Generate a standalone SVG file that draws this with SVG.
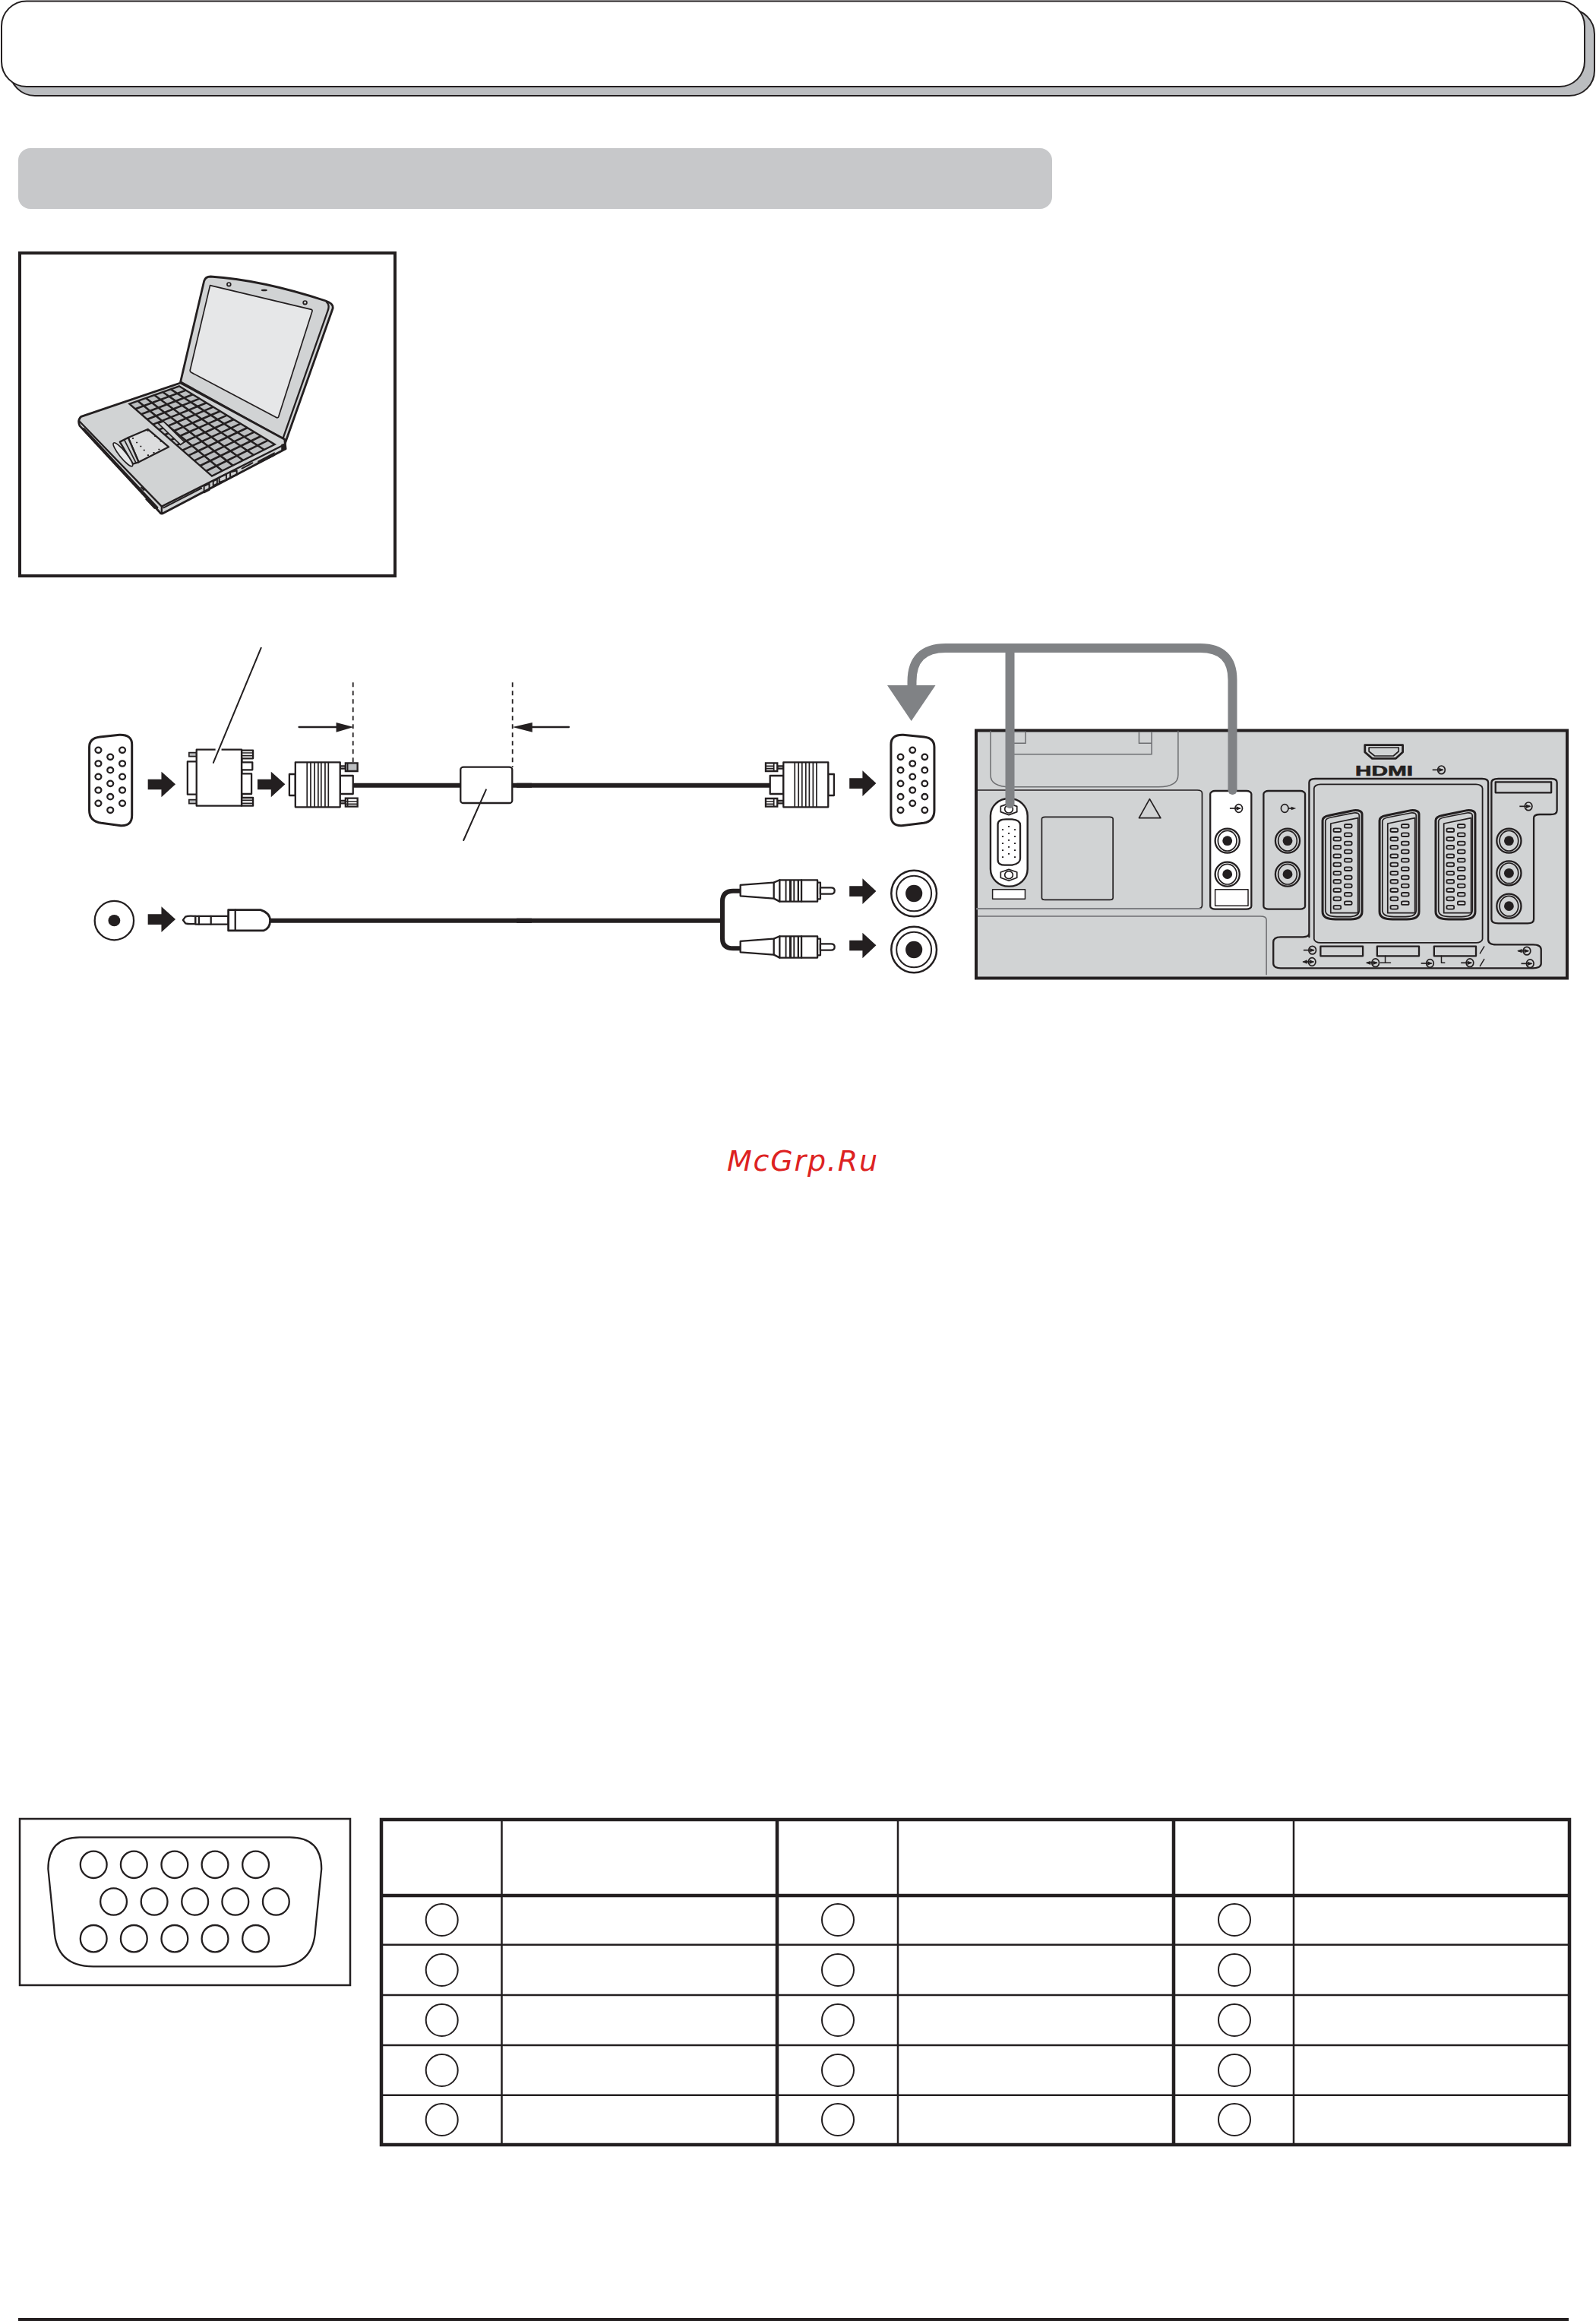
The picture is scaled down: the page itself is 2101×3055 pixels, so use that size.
<svg xmlns="http://www.w3.org/2000/svg" xmlns:xlink="http://www.w3.org/1999/xlink" width="2101" height="3055" viewBox="0 0 2101 3055">
<style>
*{vector-effect:non-scaling-stroke}
.k{fill:none;stroke:#231f20;stroke-width:2.300;stroke-linejoin:round;stroke-linecap:round}
.kt{fill:none;stroke:#231f20;stroke-width:1.700;stroke-linejoin:round}
.w{fill:#fff;stroke:#231f20;stroke-width:2.300;stroke-linejoin:round}
.g{fill:#d1d3d4;stroke:#231f20;stroke-width:2.300;stroke-linejoin:round}
.b{fill:#231f20}
.thin{stroke:#231f20;stroke-width:2.500;fill:none}
.thick{stroke:#231f20;stroke-width:4.500;fill:none}
.cable{fill:none;stroke:#231f20;stroke-width:6}
.gr{fill:none;stroke:#808285;stroke-width:12}
</style>
<defs>
<path id="fat" class="b" d="M0,-20H45V-50L92,0L45,51V21H0Z"/>
<g id="vga15"><ellipse cx="0" cy="0" rx="10" ry="11" class="k"/></g>
<g id="hole"><ellipse rx="30" ry="48" class="k"/><ellipse rx="23" ry="40" class="kt"/><ellipse rx="12" ry="19" class="b"/></g>
<g id="in"><ellipse rx="9" ry="16" class="kt"/><path class="kt" d="M-22,0H4"/><path class="b" d="M-6,-8L6,0L-6,8Z"/></g>
<g id="inb"><ellipse rx="9" ry="16" class="kt"/><path class="kt" d="M-22,0H4"/><path class="b" d="M-6,-8L6,0L-6,8Z"/><path class="b" d="M-12,-8L-24,0L-12,8Z"/></g>
<g id="pin"><rect x="-9" y="-7" width="18" height="14" rx="4" class="kt" style="stroke-width:1.8"/></g>
<g id="rca">
<path class="w" d="M770,975L885,965L905,955H1035V1040H905L885,1028L770,1018Z"/>
<path class="k" d="M885,965V1028M905,955V1040M980,955V1040"/>
<path d="M924,955h5v85h-5zM938,955h8v85h-8zM952,955h5v85h-5zM966,955h6v85h-6z" class="b"/>
<path class="w" d="M1035,965H1045V1030H1035Z"/>
<path class="w" d="M1045,985H1082Q1094,985 1094,997Q1094,1010 1082,1010H1045Z"/>
</g>
<g id="scart">
<path class="k" style="stroke-width:3" d="M898,420Q898,405 915,400L975,380Q995,378 995,395V780Q995,810 965,810H930Q898,810 898,780Z"/>
<path class="kt" d="M905,424Q905,412 918,408L975,390Q988,388 988,400V775Q988,800 962,800H933Q905,800 905,775Z"/>
<path class="kt" d="M918,432L985,410V785H918Z"/>
<use href="#pin" x="934" y="458"/><use href="#pin" x="934" y="493"/><use href="#pin" x="934" y="526"/><use href="#pin" x="934" y="560"/><use href="#pin" x="934" y="594"/><use href="#pin" x="934" y="628"/><use href="#pin" x="934" y="661"/><use href="#pin" x="934" y="695"/><use href="#pin" x="934" y="729"/><use href="#pin" x="934" y="763"/>
<use href="#pin" x="961" y="442"/><use href="#pin" x="961" y="476"/><use href="#pin" x="961" y="510"/><use href="#pin" x="961" y="543"/><use href="#pin" x="961" y="577"/><use href="#pin" x="961" y="611"/><use href="#pin" x="961" y="645"/><use href="#pin" x="961" y="678"/><use href="#pin" x="961" y="712"/><use href="#pin" x="961" y="746"/>
</g>
</defs>
<rect width="2101" height="3055" fill="#fff"/>

<g id="header">
<rect x="13" y="12" width="2086" height="114" rx="33" fill="#bbbdc0" stroke="#231f20" stroke-width="2"/>
<rect x="2" y="1.500" width="2084" height="112.500" rx="33" fill="#fff" stroke="#231f20" stroke-width="2"/>
</g>
<g id="section-bar"><rect x="24" y="195" width="1361" height="80" rx="16" fill="#c7c8ca"/></g>

<g id="laptop">
<rect x="26" y="333" width="494" height="425" fill="#fff" stroke="#231f20" stroke-width="4"/>
<g transform="translate(0,320) scale(.3444,.3333)">
<path class="g" style="stroke-width:2.800" d="M690,548L780,150Q785,132 805,132Q1000,145 1245,228Q1275,238 1272,258L1090,790L1085,775Z"/>
<path class="k" d="M1248,232Q1262,245 1252,270L1082,770"/>
<path d="M803,167L1190,262Q1195,264 1193,270L1065,685Q1062,692 1055,688L730,510Q725,506 727,500Z" fill="#e6e7e8" stroke="#231f20" stroke-width="1.700"/>
<ellipse cx="875" cy="163" rx="7" ry="7" class="kt"/><ellipse cx="1166" cy="235" rx="7" ry="7" class="kt"/><ellipse cx="1010" cy="186" rx="12" ry="4" class="b"/>
<path class="g" style="stroke-width:2.800" d="M310,685L690,552L1088,775L1092,812L625,1066Q615,1072 608,1060L305,722Q295,700 310,685Z"/>
<path class="k" d="M305,705L618,1040V1066M618,1040L1088,795"/>
<path class="k" style="stroke-width:3.500" d="M320,735L600,1045"/>
<path d="M495,635L685,565L1050,795L810,920Z" fill="#bcbec0" stroke="#231f20" stroke-width="2.400"/>
<path fill="none" stroke="#231f20" stroke-width="2.600" d="M527,623L850,899M558,612L890,878M590,600L930,858M622,588L970,837M653,577L1010,816M517.500,655L711,581M540,676L737,598M562.500,696L763,614M585,716L789,631M607.500,737L815,647M630,757L841,664M652.500,778L867.500,680M675,798L893.600,696M697.500,818L919.600,713M720,839L945.700,729M742.500,859L971.800,746M765,879L997.900,762M787.500,900L1024,779"/>
<path d="M605,712L625,704L705,785L690,796Z" fill="#d1d3d4" stroke="#231f20" stroke-width="1.700"/>
<path class="g" d="M490,768L565,735L645,805L530,865Z" style="fill:#dcddde"/>
<path class="g" d="M458,785L490,768L530,865L508,872Z"/>
<path class="kt" d="M475,777L520,868"/>
<path class="b" d="M505,768h6v5h-6zM520,785h6v5h-6zM535,800h6v5h-6zM548,815h6v5h-6zM562,738h6v5h-6zM590,760h6v5h-6zM612,780h6v5h-6zM605,812h6v5h-6zM585,825h6v5h-6zM563,835h6v5h-6z"/>
<ellipse cx="0" cy="0" rx="58" ry="13" transform="translate(470,835) rotate(52)" fill="#e6e7e8" stroke="#231f20" stroke-width="1.700"/>
<path class="k" style="stroke-width:2" d="M625,1045L770,968M780,960L800,950V975L780,985ZM815,940L830,932V950L815,958ZM838,925L865,912V935L838,945ZM880,905L905,898V915L880,925ZM925,890L965,868M540,965L550,975"/>
<path class="b" d="M985,860L1050,825V840L985,872ZM560,1005L600,1045L590,1050L555,1012ZM1075,795L1090,790V812L1075,820Z"/>
</g>
</g>

<g id="connectors">
<g transform="translate(80,840) scale(.3954,.3333)">
<path class="cable" d="M973,581H1335M1503,581H1568"/>
<path class="cable" d="M697,1115H1568"/>
<path class="k" style="stroke-width:1.800;stroke-linecap:butt" stroke-dasharray="6 5" d="M973,175V490M1504,175V510"/>
<path class="k" d="M793,351H920"/><path class="b" d="M917,333L975,351L917,371Z"/>
<path class="b" d="M1504,351L1570,333V371Z"/>
</g>
<g transform="translate(680,840) scale(.3827,.3333)">
<path class="cable" d="M0,581H872M0,1115H708"/>
<path class="cable" d="M770,998H745Q708,998 708,1040V1185Q708,1225 745,1225H770"/>
<path class="k" d="M180,351H50"/>
</g>
</g>

<g id="vga-left" transform="translate(80,840) scale(.3954,.3333)">
<path class="w" style="stroke-width:3" d="M95,430Q95,395 130,390L195,382Q237,380 237,420V700Q237,742 200,740L135,730Q95,722 95,680Z"/>
<use href="#vga15" x="125" y="442"/><use href="#vga15" x="125" y="495"/><use href="#vga15" x="125" y="547"/><use href="#vga15" x="125" y="600"/><use href="#vga15" x="125" y="652"/>
<use href="#vga15" x="165" y="469"/><use href="#vga15" x="165" y="521"/><use href="#vga15" x="165" y="574"/><use href="#vga15" x="165" y="626"/><use href="#vga15" x="165" y="679"/>
<use href="#vga15" x="205" y="442"/><use href="#vga15" x="205" y="495"/><use href="#vga15" x="205" y="547"/><use href="#vga15" x="205" y="600"/><use href="#vga15" x="205" y="652"/>
<use href="#fat" x="290" y="577"/>
</g>

<g id="adapter" transform="translate(80,840) scale(.3954,.3333)">
<path d="M427,452H452V467H427ZM427,638H452V653H427Z" fill="#bcbec0" stroke="#231f20" stroke-width="1.700"/>
<rect x="422" y="487" width="32" height="130" class="w"/>
<path class="w" d="M602,443H640V475H602ZM602,490H638V520H602ZM602,535H635V615H602ZM602,630H640V662H602Z"/>
<path class="kt" d="M602,453H640M602,464H640M602,640H640M602,652H640"/>
<path class="b" d="M598,472h8v20h-8zM598,517h8v20h-8zM598,613h8v20h-8z"/>
<rect x="452" y="440" width="150" height="222" class="w"/>
<path stroke="#fff" stroke-width="4" d="M515,440H535"/>
<path class="k" style="stroke-width:2" d="M667,38L508,492"/>
<use href="#fat" x="655" y="577"/>
</g>

<g id="plug-left" transform="translate(80,840) scale(.3954,.3333)">
<rect x="761" y="537" width="20" height="84" class="w"/>
<path class="w" d="M930,543H973V615H930ZM930,505H948V515H930ZM930,642H948V652H930Z"/>
<path d="M948,493H988V525H948Z" fill="#bcbec0" stroke="#231f20" stroke-width="2.300"/>
<path d="M948,632H988V665H948Z" fill="#fff" stroke="#231f20" stroke-width="2.300"/>
<path class="kt" d="M955,493V525M955,632V665M948,645H988M948,655H988"/>
<rect x="781" y="490" width="149" height="177" class="w"/>
<path class="kt" d="M820,490V667M832,490V667M845,490V667M857,490V667M867,490V667M880,490V667M891,490V667"/>
</g>

<g id="ferrite" transform="translate(80,840) scale(.3954,.3333)">
<rect x="1331" y="509" width="172" height="142" rx="10" class="w"/>
<path class="k" style="stroke-width:2" d="M1416,598L1341,798"/>
</g>

<g id="audio-jack" transform="translate(80,840) scale(.3954,.3333)">
<ellipse cx="178" cy="1115" rx="65" ry="77" class="k"/>
<ellipse cx="178" cy="1115" rx="20" ry="23" class="b"/>
<use href="#fat" x="290" y="1110"/>
<path class="w" d="M448,1098H558V1130H448Z"/>
<path class="k" d="M500,1098V1130M460,1098V1130"/>
<path class="w" d="M448,1098Q425,1095 415,1100L407,1113L415,1126Q425,1130 448,1128Z"/>
<path class="w" style="stroke-width:2.800" d="M558,1073H665Q697,1085 697,1115Q697,1145 675,1155H558Z"/>
<path class="k" d="M581,1073V1155"/>
</g>

<g id="right-plugs" transform="translate(680,840) scale(.3827,.3333)">
<rect x="1072" y="537" width="20" height="84" class="w"/>
<path class="w" d="M872,543H918V615H872ZM897,505H918V515H897ZM897,642H918V652H897Z"/>
<path d="M857,493H897V525H857ZM857,633H897V665H857Z" fill="#fff" stroke="#231f20" stroke-width="2.300"/>
<path class="kt" d="M885,493V525M885,633V665M857,505H885M857,515H885M857,645H885M857,655H885"/>
<rect x="918" y="490" width="154" height="177" class="w"/>
<path class="kt" d="M957,490V667M970,490V667M982,490V667M995,490V667M1007,490V667M1020,490V667M1032,490V667"/>
<use href="#rca"/>
<use href="#rca" y="222"/>
<use href="#fat" x="1145" y="573"/><use href="#fat" x="1145" y="999"/><use href="#fat" x="1145" y="1213"/>
</g>

<g id="vga-right" transform="translate(680,840) scale(.3827,.3333)">
<path class="w" style="stroke-width:3" d="M1437,430Q1437,395 1402,390L1330,382Q1288,380 1288,420V700Q1288,742 1325,740L1400,730Q1437,722 1437,680Z"/>
<use href="#vga15" x="1362" y="442"/><use href="#vga15" x="1362" y="495"/><use href="#vga15" x="1362" y="547"/><use href="#vga15" x="1362" y="600"/><use href="#vga15" x="1362" y="652"/>
<use href="#vga15" x="1321" y="469"/><use href="#vga15" x="1321" y="521"/><use href="#vga15" x="1321" y="574"/><use href="#vga15" x="1321" y="626"/><use href="#vga15" x="1321" y="679"/>
<use href="#vga15" x="1404" y="469"/><use href="#vga15" x="1404" y="521"/><use href="#vga15" x="1404" y="574"/><use href="#vga15" x="1404" y="626"/><use href="#vga15" x="1404" y="679"/>
</g>

<g id="rca-jacks" transform="translate(680,840) scale(.3827,.3333)">
<ellipse cx="1367" cy="1008" rx="78" ry="91" class="k" style="stroke-width:2.500"/><ellipse cx="1367" cy="1008" rx="60" ry="70" class="k" style="stroke-width:2"/><ellipse cx="1367" cy="1008" rx="29" ry="34" class="b"/>
<ellipse cx="1367" cy="1230" rx="78" ry="91" class="k" style="stroke-width:2.500"/><ellipse cx="1367" cy="1230" rx="60" ry="70" class="k" style="stroke-width:2"/><ellipse cx="1367" cy="1230" rx="29" ry="34" class="b"/>
</g>

<g id="tv-panel">
<rect x="1285" y="961.500" width="778" height="326" fill="#d1d3d4" stroke="#231f20" stroke-width="4"/>
<g transform="translate(1260,940) scale(.5357,.3333)">
<path stroke="#6d6e71" stroke-width="1.500" fill="none" d="M82,65V240Q82,287 130,287H495Q543,287 543,240V65"/>
<path stroke="#6d6e71" stroke-width="1.500" fill="none" d="M140,70H168V115H140M447,70V115H478M478,70V158H140"/>
<path class="kt" d="M47,300H590Q602,300 602,312V755Q602,768 590,768H47"/>
<path stroke="#939598" stroke-width="2" fill="none" d="M47,769H600"/>
<path stroke="#6d6e71" stroke-width="1.500" fill="none" d="M50,798H745Q760,798 760,812V1030"/>
<path class="kt" d="M473,335L447,410H500Z"/>
<rect x="208" y="406" width="175" height="327" rx="8" class="kt"/>
<rect x="82" y="333" width="91" height="347" rx="45" ry="68" class="w" style="stroke-width:2.400"/>
<path class="kt" d="M127,353L147,364V386L127,398L107,386V364Z"/><ellipse cx="127" cy="375" rx="10" ry="15" class="kt"/>
<path class="kt" d="M127,613L147,624V646L127,658L107,646V624Z"/><ellipse cx="127" cy="635" rx="10" ry="15" class="kt"/>
<path class="k" d="M100,435Q100,415 120,415H135Q155,418 155,438V570Q155,590 135,596H120Q100,598 100,575Z"/>
<path class="b" d="M110,454h4v5h-4zM125,441h4v5h-4zM140,454h4v5h-4zM110,481h4v5h-4zM125,468h4v5h-4zM140,481h4v5h-4zM110,508h4v5h-4zM125,495h4v5h-4zM140,508h4v5h-4zM110,535h4v5h-4zM125,522h4v5h-4zM140,535h4v5h-4zM110,562h4v5h-4zM125,549h4v5h-4zM140,562h4v5h-4z"/>
<rect x="87" y="692" width="80" height="38" class="w" style="stroke-width:1.500"/>
<rect x="622" y="303" width="101" height="467" rx="12" class="w"/>
<rect x="634" y="692" width="81" height="65" class="w" style="stroke-width:1.500"/>
<rect x="753" y="303" width="102" height="467" rx="12" class="k"/>
<use href="#hole" x="664" y="500"/><use href="#hole" x="664" y="632"/>
<use href="#hole" x="812" y="500"/><use href="#hole" x="812" y="632"/>
<use href="#hole" x="1356" y="500"/><use href="#hole" x="1356" y="628"/><use href="#hole" x="1356" y="758"/>
<path class="k" d="M865,880V270Q865,255 880,255H1290Q1305,255 1305,270V890Q1305,910 1325,910H1415Q1435,910 1435,930V985Q1435,1003 1415,1003H795Q777,1003 777,985V900Q777,880 795,880H850Q865,880 865,865"/>
<rect x="877" y="277" width="414" height="626" rx="16" class="k" style="stroke-width:1.800"/>
<path class="k" d="M1330,255H1460Q1474,255 1474,270V380Q1474,396 1458,396H1432Q1417,396 1417,410V810Q1417,826 1402,826H1330Q1313,826 1313,810V270Q1313,255 1330,255Z"/>
<rect x="1323" y="268" width="137" height="42" class="k"/>
<use href="#scart"/><use href="#scart" x="140"/><use href="#scart" x="278"/>
<rect x="893" y="917" width="104" height="38" class="k"/><rect x="1032" y="917" width="103" height="38" class="k"/><rect x="1172" y="917" width="103" height="38" class="k"/>
<path class="k" style="stroke-width:1.500" d="M1285,945L1295,918M1285,995L1295,968M1052,955V982M1040,982H1065M1190,955V982H1198"/>
<use href="#in" x="692" y="372"/>
<g transform="translate(805,372)"><ellipse rx="9" ry="16" class="kt"/><path class="kt" d="M9,0H22"/><path class="b" d="M16,-7L28,0L16,7Z"/></g>
<use href="#in" x="1190" y="220"/><use href="#in" x="1404" y="364"/><use href="#in" x="873" y="932"/><use href="#inb" x="872" y="978"/><use href="#inb" x="1028" y="982"/><use href="#in" x="1162" y="984"/><use href="#in" x="1260" y="982"/><use href="#inb" x="1400" y="935"/><use href="#in" x="1408" y="985"/>
<path fill="#d1d3d4" stroke="#231f20" stroke-width="2.800" stroke-linejoin="round" d="M1002,122H1095V150L1078,175H1020L1002,150Z"/>
<path class="kt" d="M1012,132H1085V147L1072,165H1026L1012,147Z"/>
</g>
<text x="1784" y="1021" font-family="'Liberation Sans',Arial,sans-serif" font-weight="bold" font-size="18" textLength="76" lengthAdjust="spacingAndGlyphs" fill="#231f20" stroke="#231f20" stroke-width=".6">HDMI</text>
</g>

<g id="connectors-over">
<path class="gr" d="M1622.500,1040V895Q1622.500,853 1580,853H1245Q1200.500,853 1200.500,897V905"/>
<circle cx="1622.500" cy="1040" r="6" fill="#808285"/>
<path class="gr" stroke-linecap="round" d="M1329.500,853V1058"/>
<path d="M1168,902H1231.500L1199.700,949Z" fill="#808285"/>
</g>

<g id="pin-diagram">
<rect x="26" y="2394" width="435" height="219" fill="#fff" stroke="#231f20" stroke-width="2.500"/>
<g transform="translate(0,2370) scale(.4464,.3333)">
<path class="k" d="M142,270Q142,145 235,145H855Q948,145 948,270L930,510Q925,655 815,655H275Q165,655 160,510Z"/>
<ellipse cx="276" cy="253" rx="39" ry="53" class="k"/><ellipse cx="395" cy="253" rx="39" ry="53" class="k"/><ellipse cx="515" cy="253" rx="39" ry="53" class="k"/><ellipse cx="634" cy="253" rx="39" ry="53" class="k"/><ellipse cx="754" cy="253" rx="39" ry="53" class="k"/>
<ellipse cx="335" cy="399" rx="39" ry="53" class="k"/><ellipse cx="455" cy="399" rx="39" ry="53" class="k"/><ellipse cx="575" cy="399" rx="39" ry="53" class="k"/><ellipse cx="694" cy="399" rx="39" ry="53" class="k"/><ellipse cx="814" cy="399" rx="39" ry="53" class="k"/>
<ellipse cx="276" cy="545" rx="39" ry="53" class="k"/><ellipse cx="395" cy="545" rx="39" ry="53" class="k"/><ellipse cx="515" cy="545" rx="39" ry="53" class="k"/><ellipse cx="634" cy="545" rx="39" ry="53" class="k"/><ellipse cx="754" cy="545" rx="39" ry="53" class="k"/>
</g>
</g>

<g id="pin-table">
<path class="thin" d="M660.500,2395V2823M1182,2395V2823M1703,2395V2823M502,2559.700H2066M502,2626H2066M502,2692H2066M502,2757.700H2066"/>
<path class="thick" d="M502,2495H2066M1023,2395V2823M1545,2395V2823"/>
<rect x="502" y="2395" width="1564" height="428" class="thick"/>
<g fill="none" stroke="#231f20" stroke-width="2">
<circle cx="581.700" cy="2527" r="21"/><circle cx="581.700" cy="2593" r="21"/><circle cx="581.700" cy="2659" r="21"/><circle cx="581.700" cy="2725" r="21"/><circle cx="581.700" cy="2790" r="21"/>
<circle cx="1103" cy="2527" r="21"/><circle cx="1103" cy="2593" r="21"/><circle cx="1103" cy="2659" r="21"/><circle cx="1103" cy="2725" r="21"/><circle cx="1103" cy="2790" r="21"/>
<circle cx="1625" cy="2527" r="21"/><circle cx="1625" cy="2593" r="21"/><circle cx="1625" cy="2659" r="21"/><circle cx="1625" cy="2725" r="21"/><circle cx="1625" cy="2790" r="21"/>
</g>
</g>

<g id="footer-rule"><rect x="24" y="3051" width="2041" height="4" fill="#231f20"/></g>
<g id="watermark"><text x="957" y="1541" font-family="'DejaVu Sans',sans-serif" font-style="italic" font-size="38" textLength="198" fill="#dd2222">McGrp.Ru</text></g>
</svg>
